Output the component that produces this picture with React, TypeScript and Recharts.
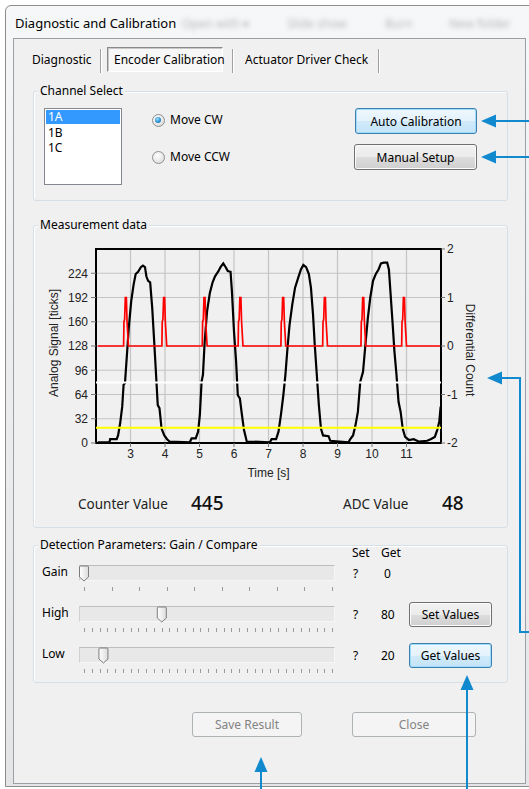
import React from 'react';
import { ComposedChart, Line, XAxis, YAxis, CartesianGrid, ReferenceLine, ReferenceArea } from 'recharts';

const UI = '"Segoe UI", "Noto Sans", "Open Sans", sans-serif';
const PF = '"Liberation Sans", Arial, sans-serif';
const BLUE = '#1189cf';

// ---------- data ----------
const timeTicks = [3, 4, 5, 6, 7, 8, 9, 10, 11];
const analogTicks = [0, 32, 64, 96, 128, 160, 192, 224];
const diffTicks = [-2, -1, 0, 1, 2];

const analogTime = [
  2.05, 2.39, 2.41, 2.6, 2.64, 2.7, 2.76, 2.8, 2.84, 2.89, 2.95, 3.02, 3.09, 3.15, 3.22, 3.3, 3.36, 3.42, 3.46, 3.51,
  3.57, 3.63, 3.68, 3.73, 3.79, 3.84, 3.9, 3.98, 4.06, 4.13,
  4.72, 4.77, 4.89, 4.96, 5.01, 5.06, 5.1, 5.15, 5.22, 5.3, 5.38, 5.45, 5.54, 5.61, 5.69, 5.76, 5.82, 5.9, 5.94, 6.0,
  6.06, 6.11, 6.17, 6.23, 6.29, 6.37,
  7.04, 7.09, 7.22, 7.29, 7.36, 7.43, 7.49, 7.55, 7.61, 7.69, 7.77, 7.86, 7.94, 8.01, 8.09, 8.17, 8.23, 8.29, 8.34, 8.4,
  8.46, 8.52, 8.58, 8.74, 8.79,
  9.32, 9.37, 9.45, 9.52, 9.59, 9.66, 9.74, 9.8, 9.88, 9.95, 10.03, 10.11, 10.19, 10.26, 10.34, 10.44, 10.49, 10.54, 10.6, 10.65,
  10.71, 10.77, 10.83, 10.89, 10.96, 11.07, 11.21, 11.35, 11.6, 11.7, 11.82, 11.89, 11.95, 11.99,
];
const analogValue = [
  1, 1, 5, 5, 10, 26, 48, 77, 79, 112, 152, 187, 209, 223, 226, 232, 234, 232, 220, 214,
  212, 178, 139, 99, 50, 46, 19, 10, 5, 2,
  1, 6, 6, 15, 37, 81, 90, 134, 174, 198, 212, 220, 226, 232, 237, 232, 227, 226, 200, 147,
  108, 63, 59, 37, 17, 2,
  1, 5, 5, 15, 37, 63, 90, 125, 156, 183, 205, 218, 229, 235, 232, 223, 205, 170, 130, 90,
  50, 19, 10, 9, 3,
  1, 5, 10, 23, 41, 81, 94, 125, 165, 192, 214, 223, 229, 237, 238, 238, 229, 196, 156, 121,
  90, 54, 41, 19, 8, 4, 5, 2, 3, 5, 8, 17, 28, 48,
];

const diffTime = [
  2.05,
  2.8, 2.81, 2.83, 2.85, 2.88, 2.9, 2.94,
  3.91, 3.92, 3.94, 3.96, 3.99, 4.01, 4.05,
  5.08, 5.09, 5.11, 5.13, 5.16, 5.18, 5.22,
  6.12, 6.13, 6.15, 6.17, 6.2, 6.22, 6.26,
  7.36, 7.37, 7.39, 7.41, 7.44, 7.46, 7.5,
  8.57, 8.58, 8.6, 8.62, 8.65, 8.67, 8.71,
  9.68, 9.69, 9.71, 9.73, 9.76, 9.78, 9.82,
  10.86, 10.87, 10.89, 10.91, 10.94, 10.96, 11.0,
  11.97,
];
const diffValue = [
  0,
  0, 0.5, 0.55, 1, 1, 0.5, 0,
  0, 0.5, 0.55, 1, 1, 0.5, 0,
  0, 0.5, 0.55, 1, 1, 0.5, 0,
  0, 0.5, 0.55, 1, 1, 0.5, 0,
  0, 0.5, 0.55, 1, 1, 0.5, 0,
  0, 0.5, 0.55, 1, 1, 0.5, 0,
  0, 0.5, 0.55, 1, 1, 0.5, 0,
  0, 0.5, 0.55, 1, 1, 0.5, 0,
  0,
];

const highThreshold = 80;
const lowThreshold = 20;

const channels = ['1A', '1B', '1C'];
const counterValue = 445;
const adcValue = 48;
const sliderLabels = ['Gain', 'High', 'Low'];
const sliderGet = [0, 80, 20];
const sliderMax = [9, 255, 255];
const sliderTickCount = [10, 33, 33];

const analogData = analogTime.map((t, i) => ({ t, v: analogValue[i] }));
const diffData = diffTime.map((t, i) => ({ t, d: diffValue[i] }));

// ---------- helpers ----------
function Txt({ x, y, s = 12, c = '#000', w = 400, center = false, f = UI, bg, children }: any) {
  return (
    <div
      style={{
        position: 'absolute',
        left: x,
        top: y,
        transform: center ? 'translate(-50%,-50%)' : 'translate(0,-50%)',
        fontSize: s,
        lineHeight: 1,
        color: c,
        fontWeight: w,
        fontFamily: f,
        whiteSpace: 'nowrap',
        background: bg,
        padding: bg ? '0 2px' : 0,
      }}
    >
      {children}
    </div>
  );
}

function Btn({ x, y, w, h, label, kind = 'normal' }: any) {
  const styles: any = {
    normal: {
      border: '1px solid #707070',
      background: 'linear-gradient(#f2f2f2 0%, #ebebeb 50%, #dddddd 51%, #cfcfcf 100%)',
      color: '#000',
      boxShadow: 'inset 0 0 0 1px #fbfbfb',
    },
    hot: {
      border: '1px solid #3c7fb1',
      background: 'linear-gradient(#eef7fd 0%, #e3f2fc 50%, #d0eafa 51%, #c4e4f8 100%)',
      color: '#000',
      boxShadow: 'inset 0 0 0 1px #9fdcf9',
    },
    disabled: {
      border: '1px solid #adb2b5',
      background: '#f4f4f4',
      color: '#838383',
      boxShadow: 'none',
    },
  };
  const st = styles[kind];
  return (
    <div
      style={{
        position: 'absolute',
        left: x,
        top: y,
        width: w,
        height: h,
        boxSizing: 'border-box',
        borderRadius: 3,
        ...st,
        fontFamily: UI,
        fontSize: 12,
        display: 'flex',
        alignItems: 'center',
        justifyContent: 'center',
      }}
    >
      {label}
    </div>
  );
}

function Group({ x, y, w, h, title }: any) {
  return (
    <>
      <div
        style={{
          position: 'absolute',
          left: x,
          top: y,
          width: w,
          height: h,
          boxSizing: 'border-box',
          border: '1px solid #d5dfe5',
          borderRadius: 3,
          boxShadow: 'inset 1px 1px 0 #ffffff',
        }}
      />
      <Txt x={x + 5} y={y} bg="#f0f0f0">
        {title}
      </Txt>
    </>
  );
}

function Radio({ x, y, checked }: any) {
  return (
    <div
      style={{
        position: 'absolute',
        left: x - 6.5,
        top: y - 6.5,
        width: 13,
        height: 13,
        boxSizing: 'border-box',
        borderRadius: '50%',
        border: '1px solid #8e8f8f',
        background: 'radial-gradient(circle at 40% 35%, #ffffff 0%, #e6e6e6 60%, #cfcfcf 100%)',
      }}
    >
      {checked && (
        <div
          style={{
            position: 'absolute',
            left: 2.5,
            top: 2.5,
            width: 6,
            height: 6,
            borderRadius: '50%',
            background: 'radial-gradient(circle at 40% 35%, #9ee0fb 0%, #2b8fd2 55%, #1a5f9a 100%)',
          }}
        />
      )}
    </div>
  );
}

function Slider({ y, value, max, ticks }: any) {
  const tickStart = 84;
  const tickEnd = 332;
  const thumbX = tickStart + (value / max) * (tickEnd - tickStart);
  const tickXs = Array.from({ length: ticks }, (_, i) => tickStart + (i * (tickEnd - tickStart)) / (ticks - 1));
  return (
    <>
      <div
        style={{
          position: 'absolute',
          left: 79,
          top: y,
          width: 256,
          height: 16,
          boxSizing: 'border-box',
          background: '#e8e8e8',
          borderTop: '1px solid #bdbdbd',
          borderLeft: '1px solid #d0d0d0',
          borderBottom: '1px solid #f6f6f6',
          borderRight: '1px solid #f6f6f6',
        }}
      />
      <svg style={{ position: 'absolute', left: 0, top: 0, overflow: 'visible' }} width={1} height={1}>
        <defs>
          <linearGradient id="thumbg" x1="0" y1="0" x2="1" y2="0">
            <stop offset="0" stopColor="#ffffff" />
            <stop offset="1" stopColor="#dcdcdc" />
          </linearGradient>
        </defs>
        <path
          d={`M ${thumbX - 4.5} ${y + 2} Q ${thumbX - 4.5} ${y + 1} ${thumbX - 3.5} ${y + 1} L ${thumbX + 3.5} ${y + 1} Q ${thumbX + 4.5} ${y + 1} ${thumbX + 4.5} ${y + 2} L ${thumbX + 4.5} ${y + 12} L ${thumbX} ${y + 16} L ${thumbX - 4.5} ${y + 12} Z`}
          fill="url(#thumbg)"
          stroke="#7d7d7d"
          strokeWidth={1}
        />
        {tickXs.map((tx, i) => (
          <line key={i} x1={Math.round(tx) + 0.5} x2={Math.round(tx) + 0.5} y1={y + 22} y2={y + 26} stroke="#9a9a9a" strokeWidth={1} />
        ))}
      </svg>
    </>
  );
}

// axis titles via Recharts label content
const leftTitle = (p: any) => {
  const vb = p.viewBox;
  const cx = vb.x + 14;
  const cy = vb.y + vb.height / 2 - 3;
  return (
    <text x={cx} y={cy} transform={`rotate(-90 ${cx} ${cy})`} textAnchor="middle" dominantBaseline="central" fontSize={12} fill="#222" fontFamily={PF}>
      Analog Signal [ticks]
    </text>
  );
};
const rightTitle = (p: any) => {
  const vb = p.viewBox;
  const cx = vb.x + 29;
  const cy = vb.y + vb.height / 2 + 4;
  return (
    <text x={cx} y={cy} transform={`rotate(90 ${cx} ${cy})`} textAnchor="middle" dominantBaseline="central" fontSize={12} fill="#222" fontFamily={PF}>
      Differential Count
    </text>
  );
};
const timeTitle = (p: any) => {
  const vb = p.viewBox;
  const cx = vb.x + vb.width / 2;
  const cy = vb.y + 30;
  return (
    <text x={cx} y={cy} textAnchor="middle" dominantBaseline="central" fontSize={12} fill="#222" fontFamily={PF}>
      Time [s]
    </text>
  );
};

const tickStyle = { fontSize: 12, fill: '#222', fontFamily: PF };

function MeasurementChart() {
  return (
    <div style={{ position: 'absolute', left: 40, top: 240 }}>
      <ComposedChart width={450} height={245} margin={{ top: 9, right: 0, bottom: 2, left: 0 }}>
        <CartesianGrid yAxisId="left" stroke="#c4c4c4" strokeWidth={1.2} fill="none" />
        <XAxis
          dataKey="t"
          type="number"
          domain={[2, 12]}
          ticks={timeTicks}
          allowDataOverflow
          height={40}
          tickSize={4}
          tick={tickStyle}
          tickLine={{ stroke: '#777' }}
          axisLine={false}
          label={timeTitle}
        />
        <YAxis
          yAxisId="left"
          domain={[0, 256]}
          ticks={analogTicks}
          allowDataOverflow
          width={56}
          tickSize={5}
          tickMargin={3}
          tick={tickStyle}
          tickLine={{ stroke: '#777' }}
          axisLine={false}
          label={leftTitle}
        />
        <YAxis
          yAxisId="right"
          orientation="right"
          domain={[-2, 2]}
          ticks={diffTicks}
          allowDataOverflow
          width={49}
          tickSize={4}
          tickMargin={2}
          tick={tickStyle}
          tickLine={{ stroke: '#777' }}
          axisLine={false}
          label={rightTitle}
        />
        <Line yAxisId="left" data={analogData} dataKey="v" type="linear" stroke="#000" strokeWidth={2.2} dot={false} isAnimationActive={false} />
        <ReferenceLine yAxisId="left" y={highThreshold} stroke="#ffffff" strokeWidth={2} />
        <ReferenceLine yAxisId="left" y={lowThreshold} stroke="#ffff00" strokeWidth={2} />
        <Line yAxisId="right" data={diffData} dataKey="d" type="linear" stroke="#ff0000" strokeWidth={1.7} dot={false} isAnimationActive={false} />
        <ReferenceArea yAxisId="left" x1={2} x2={12} y1={0} y2={256} fill="none" fillOpacity={0} stroke="#000" strokeWidth={2} />
      </ComposedChart>
    </div>
  );
}

function Arrows() {
  return (
    <svg style={{ position: 'absolute', left: 0, top: 0 }} width={529} height={789}>
      <g stroke={BLUE} strokeWidth={2} fill="none">
        <line x1={494} y1={121} x2={529} y2={121} />
        <line x1={494} y1={157} x2={529} y2={157} />
        <polyline points="500,378 520,378 520,632 529,632" />
        <line x1={467} y1={688} x2={467} y2={789} />
        <line x1={261} y1={770} x2={261} y2={789} />
      </g>
      <g fill={BLUE}>
        <polygon points="481,121 496,114.5 496,127.5" />
        <polygon points="481,157 496,150.5 496,163.5" />
        <polygon points="487,378 502,371.5 502,384.5" />
        <polygon points="467,675 460.5,690 473.5,690" />
        <polygon points="261,757 254.5,772 267.5,772" />
      </g>
    </svg>
  );
}

export default function App() {
  return (
    <div style={{ position: 'absolute', left: 0, top: 0, width: 529, height: 789, overflow: 'hidden', background: '#ffffff', fontFamily: UI }}>
      {/* window frame */}
      <div
        style={{
          position: 'absolute',
          left: 5,
          top: 5,
          width: 560,
          height: 782,
          boxSizing: 'border-box',
          border: '1px solid #8c8c8c',
          borderRadius: '6px 6px 0 0',
          background: 'linear-gradient(180deg, #f6f7f8 0%, #eceef0 40%, #e3e5e7 100%)',
        }}
      />
      <Txt x={15} y={23} s={13}>
        Diagnostic and Calibration
      </Txt>
      {/* blurred background toolbar seen through glass */}
      {[
        ['Open with \u25BE', 182],
        ['Slide show', 287],
        ['Burn', 385],
        ['New folder', 449],
      ].map(([t, x]: any) => (
        <div
          key={t}
          style={{ position: 'absolute', left: x, top: 15, fontSize: 12, color: '#3a3a3a', filter: 'blur(2.4px)', opacity: 0.35, whiteSpace: 'nowrap' }}
        >
          {t}
        </div>
      ))}
      {/* client area */}
      <div
        style={{
          position: 'absolute',
          left: 13,
          top: 38,
          width: 513,
          height: 746,
          boxSizing: 'border-box',
          background: '#f0f0f0',
          border: '1px solid #9ca0a4',
        }}
      />

      {/* tabs */}
      <Txt x={32} y={60}>Diagnostic</Txt>
      <div style={{ position: 'absolute', left: 100, top: 49, width: 1, height: 24, background: '#a0a0a0', boxShadow: '1px 0 0 #ffffff' }} />
      <div
        style={{
          position: 'absolute',
          left: 107,
          top: 47,
          width: 116,
          height: 25,
          boxSizing: 'border-box',
          background: '#f7f7f7',
          borderTop: '1px solid #8a8a8a',
          borderLeft: '1px solid #8a8a8a',
          borderRight: '1px solid #ffffff',
          borderBottom: '1px solid #ffffff',
          boxShadow: 'inset 1px 1px 0 #c8c8c8',
        }}
      />
      <Txt x={114} y={60}>Encoder Calibration</Txt>
      <div style={{ position: 'absolute', left: 232, top: 49, width: 1, height: 24, background: '#a0a0a0', boxShadow: '1px 0 0 #ffffff' }} />
      <Txt x={245} y={60}>Actuator Driver Check</Txt>
      <div style={{ position: 'absolute', left: 378, top: 49, width: 1, height: 24, background: '#a0a0a0', boxShadow: '1px 0 0 #ffffff' }} />

      {/* Channel select */}
      <Group x={33} y={91} w={475} h={110} title="Channel Select" />
      <div
        style={{
          position: 'absolute',
          left: 44,
          top: 108,
          width: 78,
          height: 77,
          boxSizing: 'border-box',
          background: '#ffffff',
          border: '1px solid #828790',
        }}
      />
      <div style={{ position: 'absolute', left: 46, top: 110, width: 74, height: 14, background: '#3399ff' }} />
      {channels.map((c, i) => (
        <Txt key={c} x={48} y={117 + i * 15.5} c={i === 0 ? '#ffffff' : '#000'}>
          {c}
        </Txt>
      ))}
      <Radio x={158} y={120} checked />
      <Txt x={170} y={120}>Move CW</Txt>
      <Radio x={158} y={157} />
      <Txt x={170} y={157}>Move CCW</Txt>
      <Btn x={355} y={108} w={122} h={26} label="Auto Calibration" kind="hot" />
      <Btn x={354} y={144} w={123} h={26} label="Manual Setup" />

      {/* Measurement data */}
      <Group x={33} y={225} w={475} h={303} title="Measurement data" />
      <MeasurementChart />
      <Txt x={78} y={505} s={13.5} c="#222">Counter Value</Txt>
      <Txt x={191} y={503} s={19} w={500} c="#111">{counterValue}</Txt>
      <Txt x={343} y={505} s={13.5} c="#222">ADC Value</Txt>
      <Txt x={442} y={503} s={19} w={500} c="#111">{adcValue}</Txt>

      {/* Detection parameters */}
      <Group x={33} y={545} w={475} h={138} title="Detection Parameters: Gain / Compare" />
      <Txt x={352} y={553}>Set</Txt>
      <Txt x={381} y={553}>Get</Txt>
      {sliderLabels.map((lab, i) => {
        const trackY = [565, 606, 647][i];
        return (
          <React.Fragment key={lab}>
            <Txt x={42} y={trackY + 7}>{lab}</Txt>
            <Slider y={trackY} value={sliderGet[i]} max={sliderMax[i]} ticks={sliderTickCount[i]} />
            <Txt x={353} y={trackY + 9}>?</Txt>
            <Txt x={i === 0 ? 384 : 381} y={trackY + 9}>{sliderGet[i]}</Txt>
          </React.Fragment>
        );
      })}
      <Btn x={409} y={602} w={83} h={25} label="Set Values" />
      <Btn x={409} y={643} w={83} h={25} label="Get Values" kind="hot" />

      {/* bottom buttons */}
      <Btn x={192} y={712} w={110} h={25} label="Save Result" kind="disabled" />
      <Btn x={352} y={712} w={124} h={25} label="Close" kind="disabled" />

      <Arrows />
    </div>
  );
}
